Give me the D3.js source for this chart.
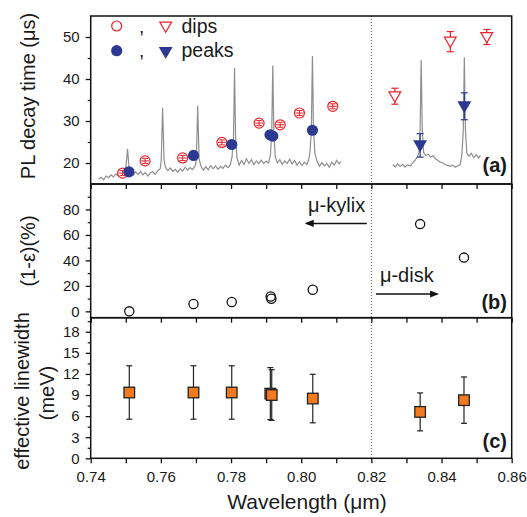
<!DOCTYPE html>
<html>
<head>
<meta charset="utf-8">
<script src="https://cdn.jsdelivr.net/npm/d3@7"></script>
<style>
  body { margin: 0; background: #fff; }
  text { font-family: "Liberation Sans", Arial, sans-serif; fill: #1a1a1a; }
</style>
</head>
<body>
<div id="chart"></div>
<script>
// ---- data ----
var xTicks = [0.74, 0.75, 0.76, 0.77, 0.78, 0.79, 0.80, 0.81, 0.82, 0.83, 0.84, 0.85, 0.86];

// grey PL spectrum overlay (plotted in panel (a) units)
var spec1 = [
  [0.7423,16.2],[0.7430,16.6],[0.7437,16.0],[0.7444,16.9],[0.7451,16.5],[0.7458,17.2],[0.7465,16.7],
  [0.7472,17.4],[0.7479,16.9],[0.7486,17.6],[0.7493,17.0],[0.7497,17.5],[0.7501,19.5],[0.7505,23.3],
  [0.7509,19.3],[0.7514,17.6],[0.7521,17.1],[0.7528,17.9],[0.7535,17.3],[0.7542,18.0],[0.7549,17.2],
  [0.7556,17.7],[0.7563,16.9],[0.7570,17.6],[0.7577,17.9],[0.7584,17.3],[0.7591,18.2],[0.7598,18.6],
  [0.7601,20.5],[0.7605,33.1],[0.7609,20.8],[0.7613,19.0],[0.7620,18.2],[0.7627,18.8],[0.7634,18.0],
  [0.7641,18.5],[0.7648,17.8],[0.7655,18.6],[0.7662,18.1],[0.7669,19.0],[0.7676,18.3],[0.7683,18.9],
  [0.7690,18.4],[0.7697,19.2],[0.7701,20.4],[0.7705,33.6],[0.7709,21.0],[0.7714,19.3],[0.7721,18.3],
  [0.7728,19.1],[0.7735,18.4],[0.7742,19.4],[0.7749,18.6],[0.7756,19.3],[0.7763,18.5],[0.7770,19.2],
  [0.7777,18.7],[0.7784,19.5],[0.7791,18.9],[0.7798,19.6],[0.7803,21.5],[0.7807,26.0],[0.7810,42.6],
  [0.7813,26.0],[0.7817,21.2],[0.7823,19.5],[0.7830,20.6],[0.7837,19.7],[0.7844,21.0],[0.7851,19.9],
  [0.7858,20.8],[0.7865,19.6],[0.7872,20.5],[0.7879,19.8],[0.7886,20.7],[0.7893,19.9],[0.7900,20.4],
  [0.7907,20.0],[0.7912,21.8],[0.7916,27.0],[0.7919,43.2],[0.7922,27.0],[0.7926,21.6],[0.7932,20.0],
  [0.7939,20.8],[0.7946,19.7],[0.7953,20.5],[0.7960,19.9],[0.7967,20.9],[0.7974,19.8],[0.7981,20.6],
  [0.7988,19.5],[0.7995,20.3],[0.8002,19.4],[0.8009,20.2],[0.8016,19.6],[0.8021,20.7],[0.8025,22.5],
  [0.8029,28.0],[0.8032,45.5],[0.8035,28.0],[0.8039,22.3],[0.8045,20.4],[0.8052,19.2],[0.8059,20.1],
  [0.8066,19.3],[0.8073,19.9],[0.8080,19.0],[0.8087,20.2],[0.8094,19.5],[0.8101,20.6],[0.8108,19.8],
  [0.8113,20.3]
];
var spec2 = [
  [0.8261,19.6],[0.8268,19.1],[0.8275,19.8],[0.8282,19.2],[0.8289,19.7],[0.8296,19.0],[0.8303,19.6],
  [0.8310,19.3],[0.8317,19.9],[0.8324,20.6],[0.8331,21.4],[0.8336,22.6],[0.8339,28.0],[0.8342,44.6],
  [0.8345,28.0],[0.8349,22.5],[0.8355,21.8],[0.8362,22.1],[0.8369,21.4],[0.8376,21.7],[0.8383,21.0],
  [0.8390,20.6],[0.8397,20.2],[0.8404,20.0],[0.8411,19.6],[0.8418,19.4],[0.8425,19.2],[0.8432,19.5],
  [0.8439,19.0],[0.8446,19.3],[0.8453,19.6],[0.8458,21.8],[0.8462,28.0],[0.8465,45.2],[0.8468,28.0],
  [0.8472,22.4],[0.8478,21.6],[0.8485,22.3],[0.8492,21.3],[0.8499,22.0],[0.8506,21.2],[0.8511,21.8]
];

// panel (a): PL decay times
var dipCircW  = [0.7491, 0.7555, 0.7662, 0.7774, 0.7880, 0.7940, 0.7995, 0.8090];
var dipCircV  = [17.6, 20.5, 21.2, 24.9, 29.5, 29.1, 31.9, 33.5];
var peakCircW = [0.7509, 0.7693, 0.7802, 0.7911, 0.7919, 0.8032];
var peakCircV = [17.9, 21.8, 24.4, 26.7, 26.4, 27.8];
var dipTriW   = [0.8267, 0.8425, 0.8529];
var dipTriV   = [35.9, 48.9, 50.0];
var dipTriErr = [1.9, 2.4, 1.8];
var peakTriW   = [0.8339, 0.8465];
var peakTriV   = [24.2, 33.5];
var peakTriErr = [2.8, 3.2];

// panel (b): (1-eps) in %
var epsW = [0.7510, 0.7693, 0.7802, 0.7913, 0.7915, 0.8033, 0.8339, 0.8464];
var epsV = [0, 5.8, 7.3, 11.7, 9.9, 17.0, 68.5, 42.2];

// panel (c): effective linewidth (meV)
var lwW   = [0.7510, 0.7693, 0.7802, 0.7912, 0.7916, 0.8033, 0.8339, 0.8464];
var lwV   = [9.36, 9.36, 9.36, 9.2, 9.0, 8.5, 6.6, 8.27];
var lwErr = [3.8, 3.8, 3.8, 3.7, 3.6, 3.45, 2.7, 3.3];

var aTicks = [20, 30, 40, 50], aMinor = [25, 35, 45];
var bTicks = [0, 20, 40, 60, 80], bMinor = [10, 30, 50, 70, 90];
var cTicks = [0, 3, 6, 9, 12, 15, 18], cMinor = [1.5, 4.5, 7.5, 10.5, 13.5, 16.5, 19.5];

var width = 527, height = 517;
var red = "#e8232b", blue = "#2b3990", orange = "#f47a20", grey = "#8e8e8e";

var svg = d3.select("#chart").append("svg")
    .attr("width", width).attr("height", height);

var x = d3.scaleLinear().domain([0.74, 0.86]).range([90.7, 511.7]);
var yA = d3.scaleLinear().domain([15, 55]).range([184, 16]);
var yB = d3.scaleLinear().domain([-5, 100]).range([317.7, 184]);
var yC = d3.scaleLinear().domain([0, 20]).range([458.3, 317.7]);

// ---- axes for one panel ----
function panelAxes(y, ticks, minor, showX) {
    var y0 = y.range()[0], y1 = y.range()[1];
    var g = svg.append("g");
    // x ticks (outward, down)
    var xa = d3.axisBottom(x).tickValues(xTicks).tickSize(5).tickPadding(8)
        .tickFormat(function(d) { return showX && Math.round(d * 100) % 2 === 0 ? d3.format(".2f")(d) : ""; });
    var gx = g.append("g").attr("transform", "translate(0," + y0 + ")").call(xa);
    gx.select(".domain").remove();
    gx.selectAll("line").attr("stroke", "#111").attr("stroke-width", 1.3);
    gx.selectAll("text").style("font-size", "15px").attr("fill", "#1a1a1a");

    var ya = d3.axisLeft(y).tickValues(ticks).tickSize(5).tickPadding(6);
    var gy = g.append("g").attr("transform", "translate(" + x.range()[0] + ",0)").call(ya);
    gy.select(".domain").remove();
    gy.selectAll("line").attr("stroke", "#111").attr("stroke-width", 1.3);
    gy.selectAll("text").style("font-size", "15px").attr("fill", "#1a1a1a");

    var gm = g.append("g").attr("transform", "translate(" + x.range()[0] + ",0)")
        .call(d3.axisLeft(y).tickValues(minor).tickSize(3).tickFormat(""));
    gm.select(".domain").remove();
    gm.selectAll("line").attr("stroke", "#111").attr("stroke-width", 1.2);

    g.append("rect")
        .attr("x", x.range()[0]).attr("y", y1)
        .attr("width", x.range()[1] - x.range()[0]).attr("height", y0 - y1)
        .attr("fill", "none").attr("stroke", "#111").attr("stroke-width", 1.5);
}

// dotted separator at 0.82 across all panels
svg.append("line")
    .attr("x1", x(0.82)).attr("x2", x(0.82))
    .attr("y1", yA.range()[1]).attr("y2", yC.range()[0])
    .attr("stroke", "#555").attr("stroke-width", 1).attr("stroke-dasharray", "1,2");

// ---- panel (a) ----
var line = d3.line().x(function(d) { return x(d[0]); }).y(function(d) { return yA(d[1]); });
[spec1, spec2].forEach(function(s) {
    svg.append("path").datum(s).attr("d", line)
        .attr("fill", "none").attr("stroke", grey).attr("stroke-width", 1.2);
});

function errBar(g, cx, ylo, yhi, color, cap, sw) {
    g.append("line").attr("x1", cx).attr("x2", cx).attr("y1", ylo).attr("y2", yhi)
        .attr("stroke", color).attr("stroke-width", sw);
    [ylo, yhi].forEach(function(v) {
        g.append("line").attr("x1", cx - cap).attr("x2", cx + cap).attr("y1", v).attr("y2", v)
            .attr("stroke", color).attr("stroke-width", sw);
    });
}

var tri = d3.symbol().type(d3.symbolTriangle).size(60);
function downTri(g, cx, cy, fill, stroke) {
    return g.append("path").attr("d", tri)
        .attr("transform", "translate(" + cx + "," + (cy - 1) + ") rotate(180)")
        .attr("fill", fill).attr("stroke", stroke).attr("stroke-width", 1.2);
}

var ga = svg.append("g");
dipCircW.forEach(function(w, i) {
    var cx = x(w), cy = yA(dipCircV[i]);
    ga.append("circle").attr("cx", cx).attr("cy", cy).attr("r", 5)
        .attr("fill", "#fff").attr("stroke", red).attr("stroke-width", 1.2);
    errBar(ga, cx, cy - 2.5, cy + 2.5, red, 3, 1);
    ga.append("line").attr("x1", cx - 4).attr("x2", cx + 4).attr("y1", cy).attr("y2", cy)
        .attr("stroke", red).attr("stroke-width", 1);
});
peakCircW.forEach(function(w, i) {
    ga.append("circle").attr("cx", x(w)).attr("cy", yA(peakCircV[i])).attr("r", 5.6)
        .attr("fill", blue);
});
dipTriW.forEach(function(w, i) {
    var cx = x(w);
    errBar(ga, cx, yA(dipTriV[i] - dipTriErr[i]), yA(dipTriV[i] + dipTriErr[i]), red, 3.5, 1.2);
    downTri(ga, cx, yA(dipTriV[i]), "#fff", red);
});
peakTriW.forEach(function(w, i) {
    var cx = x(w);
    errBar(ga, cx, yA(peakTriV[i] - peakTriErr[i]), yA(peakTriV[i] + peakTriErr[i]), blue, 3.5, 1.2);
    downTri(ga, cx, yA(peakTriV[i]), blue, blue);
});

// legend
var lg = svg.append("g");
lg.append("circle").attr("cx", 116.7).attr("cy", 26).attr("r", 5)
    .attr("fill", "#fff").attr("stroke", red).attr("stroke-width", 1.2);
lg.append("circle").attr("cx", 116.7).attr("cy", 50.7).attr("r", 5.6).attr("fill", blue);
downTri(lg, 165.7, 26.5, "#fff", red);
downTri(lg, 165.7, 52, blue, blue);
lg.append("text").attr("x", 139).attr("y", 33).style("font-size", "19px").text(",");
lg.append("text").attr("x", 139).attr("y", 57).style("font-size", "19px").text(",");
lg.append("text").attr("x", 181.5).attr("y", 33).style("font-size", "19.5px").text("dips");
lg.append("text").attr("x", 181.5).attr("y", 57).style("font-size", "19.5px").text("peaks");

panelAxes(yA, aTicks, aMinor, false);

// ---- panel (b) ----
var gb = svg.append("g");
epsW.forEach(function(w, i) {
    gb.append("circle").attr("cx", x(w)).attr("cy", yB(epsV[i])).attr("r", 4.6)
        .attr("fill", "none").attr("stroke", "#111").attr("stroke-width", 1.3);
});

svg.append("defs").append("marker")
    .attr("id", "head").attr("viewBox", "0 -5 10 10")
    .attr("refX", 8).attr("refY", 0)
    .attr("markerWidth", 9).attr("markerHeight", 9)
    .attr("markerUnits", "userSpaceOnUse").attr("orient", "auto")
  .append("path").attr("d", "M0,-4L10,0L0,4Z").attr("fill", "#111");

gb.append("text").attr("x", x(0.8101)).attr("y", yB(83.4)).attr("dy", ".35em")
    .attr("text-anchor", "middle").style("font-size", "20px").text("\u03bc-kylix");
gb.append("line").attr("x1", x(0.8187)).attr("x2", x(0.8015))
    .attr("y1", yB(69)).attr("y2", yB(69))
    .attr("stroke", "#111").attr("stroke-width", 1.6).attr("marker-end", "url(#head)");
gb.append("text").attr("x", x(0.8301)).attr("y", yB(28.7)).attr("dy", ".35em")
    .attr("text-anchor", "middle").style("font-size", "20px").text("\u03bc-disk");
gb.append("line").attr("x1", x(0.8213)).attr("x2", x(0.8388))
    .attr("y1", yB(13.6)).attr("y2", yB(13.6))
    .attr("stroke", "#111").attr("stroke-width", 1.6).attr("marker-end", "url(#head)");

panelAxes(yB, bTicks, bMinor, false);

// ---- panel (c) ----
var gc = svg.append("g");
lwW.forEach(function(w, i) {
    var cx = x(w);
    errBar(gc, cx, yC(lwV[i] - lwErr[i]), yC(lwV[i] + lwErr[i]), "#222", 3, 1.2);
    gc.append("rect").attr("x", cx - 5.3).attr("y", yC(lwV[i]) - 5.3)
        .attr("width", 10.6).attr("height", 10.6)
        .attr("fill", orange).attr("stroke", "#222").attr("stroke-width", 1.3);
});

panelAxes(yC, cTicks, cMinor, true);

// panel tags
[["(a)", 165], ["(b)", 301.7], ["(c)", 441]].forEach(function(t) {
    svg.append("text").attr("x", 507).attr("y", t[1]).attr("dy", ".35em")
        .attr("text-anchor", "end").style("font-size", "20px").style("font-weight", "bold")
        .text(t[0]);
});

// axis titles
function yTitle(txt, cx, cy) {
    svg.append("text").attr("transform", "translate(" + cx + "," + cy + ") rotate(-90)")
        .attr("text-anchor", "middle").attr("dy", ".35em").style("font-size", "20px").text(txt);
}
yTitle("PL decay time (\u03bcs)", 28, 96);
yTitle("(1-\u03b5)(%)", 28, 251);
yTitle("effective linewidth", 22, 391);
yTitle("(meV)", 47, 393);

svg.append("text").attr("x", 307).attr("y", 508.5).attr("text-anchor", "middle")
    .style("font-size", "21px").text("Wavelength (\u03bcm)");
</script>
</body>
</html>
